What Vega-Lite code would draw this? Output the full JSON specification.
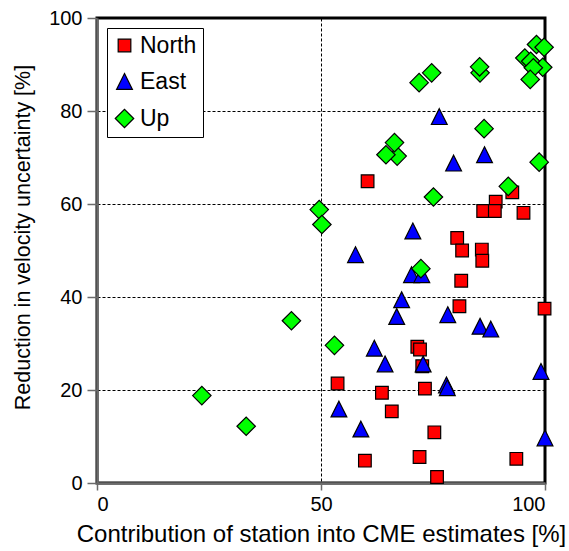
{
  "$schema": "https://vega.github.io/schema/vega-lite/v6.json",
  "width": 448,
  "height": 465,
  "autosize": "none",
  "padding": {"left": 97, "top": 18, "right": 24, "bottom": 68},
  "background": "white",
  "config": {
    "font": "Liberation Sans",
    "view": {"stroke": "#000", "strokeWidth": 3},
    "axis": {
      "labelFont": "Liberation Sans",
      "titleFont": "Liberation Sans",
      "labelFontSize": 20,
      "labelColor": "#000",
      "titleColor": "#000",
      "titleFontWeight": "normal",
      "domainColor": "#6b6b6b",
      "domainWidth": 2.5,
      "tickColor": "#6b6b6b",
      "tickWidth": 1.5,
      "gridColor": "#000",
      "gridDash": [3, 2],
      "gridWidth": 1,
      "gridOpacity": 1
    }
  },
  "data": {
    "values": [
      {"c": 60.4, "r": 64.9, "comp": "North"},
      {"c": 92.7, "r": 62.5, "comp": "North"},
      {"c": 89.0, "r": 60.5, "comp": "North"},
      {"c": 86.2, "r": 58.5, "comp": "North"},
      {"c": 88.8, "r": 58.5, "comp": "North"},
      {"c": 95.2, "r": 58.1, "comp": "North"},
      {"c": 80.4, "r": 52.7, "comp": "North"},
      {"c": 81.5, "r": 50.0, "comp": "North"},
      {"c": 85.9, "r": 50.2, "comp": "North"},
      {"c": 86.0, "r": 47.8, "comp": "North"},
      {"c": 81.3, "r": 43.5, "comp": "North"},
      {"c": 80.9, "r": 38.0, "comp": "North"},
      {"c": 99.9, "r": 37.5, "comp": "North"},
      {"c": 71.5, "r": 29.3, "comp": "North"},
      {"c": 72.1, "r": 28.7, "comp": "North"},
      {"c": 72.6, "r": 25.1, "comp": "North"},
      {"c": 53.7, "r": 21.4, "comp": "North"},
      {"c": 63.6, "r": 19.4, "comp": "North"},
      {"c": 73.2, "r": 20.3, "comp": "North"},
      {"c": 65.8, "r": 15.4, "comp": "North"},
      {"c": 75.3, "r": 10.9, "comp": "North"},
      {"c": 59.8, "r": 4.8, "comp": "North"},
      {"c": 72.0, "r": 5.6, "comp": "North"},
      {"c": 93.6, "r": 5.2, "comp": "North"},
      {"c": 75.9, "r": 1.3, "comp": "North"},
      {"c": 76.4, "r": 78.8, "comp": "East"},
      {"c": 86.5, "r": 70.6, "comp": "East"},
      {"c": 79.6, "r": 68.8, "comp": "East"},
      {"c": 70.5, "r": 54.2, "comp": "East"},
      {"c": 57.7, "r": 49.1, "comp": "East"},
      {"c": 70.2, "r": 44.8, "comp": "East"},
      {"c": 72.5, "r": 44.8, "comp": "East"},
      {"c": 68.0, "r": 39.4, "comp": "East"},
      {"c": 66.9, "r": 35.8, "comp": "East"},
      {"c": 78.3, "r": 36.2, "comp": "East"},
      {"c": 85.5, "r": 33.7, "comp": "East"},
      {"c": 87.9, "r": 33.1, "comp": "East"},
      {"c": 61.9, "r": 29.0, "comp": "East"},
      {"c": 64.3, "r": 25.6, "comp": "East"},
      {"c": 72.8, "r": 25.6, "comp": "East"},
      {"c": 99.1, "r": 24.0, "comp": "East"},
      {"c": 78.0, "r": 21.1, "comp": "East"},
      {"c": 78.2, "r": 20.5, "comp": "East"},
      {"c": 54.0, "r": 15.9, "comp": "East"},
      {"c": 58.9, "r": 11.6, "comp": "East"},
      {"c": 100.0, "r": 9.7, "comp": "East"},
      {"c": 98.1, "r": 94.3, "comp": "Up"},
      {"c": 99.8, "r": 93.7, "comp": "Up"},
      {"c": 95.5, "r": 91.4, "comp": "Up"},
      {"c": 96.8, "r": 90.7, "comp": "Up"},
      {"c": 99.5, "r": 89.4, "comp": "Up"},
      {"c": 97.4, "r": 89.3, "comp": "Up"},
      {"c": 96.7, "r": 86.8, "comp": "Up"},
      {"c": 85.5, "r": 88.2, "comp": "Up"},
      {"c": 85.4, "r": 89.5, "comp": "Up"},
      {"c": 74.7, "r": 88.2, "comp": "Up"},
      {"c": 71.9, "r": 86.1, "comp": "Up"},
      {"c": 86.4, "r": 76.2, "comp": "Up"},
      {"c": 67.0, "r": 70.3, "comp": "Up"},
      {"c": 64.5, "r": 70.6, "comp": "Up"},
      {"c": 66.4, "r": 73.2, "comp": "Up"},
      {"c": 98.7, "r": 69.0, "comp": "Up"},
      {"c": 91.8, "r": 63.8, "comp": "Up"},
      {"c": 75.1, "r": 61.5, "comp": "Up"},
      {"c": 49.6, "r": 58.8, "comp": "Up"},
      {"c": 50.2, "r": 55.6, "comp": "Up"},
      {"c": 72.3, "r": 46.1, "comp": "Up"},
      {"c": 53.0, "r": 29.6, "comp": "Up"},
      {"c": 43.4, "r": 34.9, "comp": "Up"},
      {"c": 23.4, "r": 18.8, "comp": "Up"},
      {"c": 33.3, "r": 12.2, "comp": "Up"}
    ]
  },
  "mark": {"type": "point", "filled": true, "opacity": 1, "stroke": "#000", "strokeWidth": 1.2},
  "encoding": {
    "x": {
      "field": "c", "type": "quantitative",
      "scale": {"domain": [0, 100], "nice": false, "zero": false},
      "axis": {"values": [0, 50, 100], "title": "Contribution of station into CME estimates [%]", "titleFontSize": 24, "titlePadding": 8, "labelPadding": 4, "tickSize": 7}
    },
    "y": {
      "field": "r", "type": "quantitative",
      "scale": {"domain": [0, 100], "nice": false, "zero": false},
      "axis": {"values": [0, 20, 40, 60, 80, 100], "title": "Reduction in velocity uncertainty [%]", "titleFontSize": 21.5, "titleX": -63, "titleY": 219, "titleAlign": "center", "titleBaseline": "bottom", "labelPadding": 5, "tickSize": 10}
    },
    "color": {
      "field": "comp", "type": "nominal",
      "scale": {"domain": ["North", "East", "Up"], "range": ["#ff0000", "#0000ff", "#00ff00"]},
      "legend": {
        "title": null,
        "orient": "none",
        "legendX": 10,
        "legendY": 10,
        "strokeColor": "#000",
        "fillColor": "#fff",
        "padding": 6,
        "rowPadding": 12,
        "labelFontSize": 23,
        "labelFont": "Liberation Sans",
        "labelColor": "#000",
        "labelOffset": 4,
        "symbolSize": 190,
        "symbolStrokeWidth": 1.2,
        "symbolStrokeColor": "#000",
        "encode": {"legend": {"update": {"strokeWidth": {"value": 2}}}}
      }
    },
    "shape": {
      "field": "comp", "type": "nominal",
      "scale": {"domain": ["North", "East", "Up"], "range": ["square", "M0,-1L1,1L-1,1Z", "diamond"]}
    },
    "size": {
      "field": "comp", "type": "nominal",
      "scale": {"domain": ["North", "East", "Up"], "range": [160, 340, 420]},
      "legend": null
    }
  }
}
